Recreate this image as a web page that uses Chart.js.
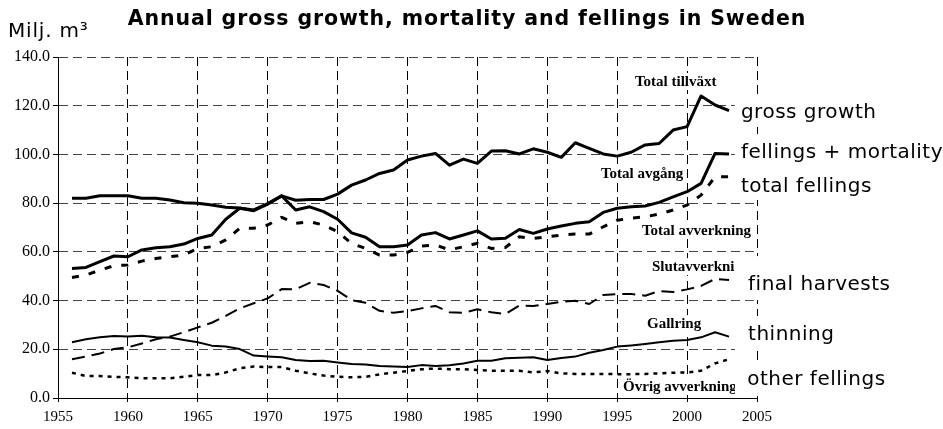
<!DOCTYPE html>
<html>
<head>
<meta charset="utf-8">
<title>Annual gross growth, mortality and fellings in Sweden</title>
<script src="https://cdn.jsdelivr.net/npm/chart.js@4.4.1/dist/chart.umd.min.js"></script>
<style>
    html, body { margin: 0; padding: 0; background: #fff; }
    #wrap { width: 943px; height: 429px; }
</style>
</head>
<body>
<div id="wrap"><canvas id="myChart" width="943" height="429"></canvas></div>
<script>
// Данные (млн м³ в год)
const years = [1956, 1957, 1958, 1959, 1960, 1961, 1962, 1963, 1964, 1965,
    1966, 1967, 1968, 1969, 1970, 1971, 1972, 1973, 1974, 1975,
    1976, 1977, 1978, 1979, 1980, 1981, 1982, 1983, 1984, 1985,
    1986, 1987, 1988, 1989, 1990, 1991, 1992, 1993, 1994, 1995,
    1996, 1997, 1998, 1999, 2000, 2001, 2002, 2003];

const grossGrowth = [82, 82, 83, 83, 83, 82, 82, 81.3, 80.2, 80,
    79.2, 78.3, 78, 77.2, 79.8, 83, 81.2, 81.5, 81.5, 83.7,
    87.4, 89.5, 92.2, 93.6, 97.7, 99.3, 100.4, 95.6, 98.1, 96.3,
    101.4, 101.5, 100.2, 102.3, 100.9, 98.8, 104.8, 102.5, 100.2, 99.3,
    100.9, 103.9, 104.5, 110, 111.4, 124, 120.3, 118];

const fellingsMortality = [53.2, 53.6, 56, 58.3, 58, 60.8, 61.7, 62.1, 63.2, 65.5,
    66.9, 73.4, 77.9, 76.9, 79.6, 83, 77.2, 78.5, 76.5, 73.4,
    67.8, 66, 62.1, 62.1, 62.8, 66.9, 67.9, 65.3, 66.9, 68.6,
    65.3, 65.6, 69.2, 67.6, 69.4, 70.6, 71.7, 72.4, 76.2, 77.9,
    78.5, 78.8, 80.3, 82.6, 84.7, 88.1, 100.4, 100.2];

const totalFellings = [49.5, 50.5, 52.5, 54.3, 54.6, 56.2, 57.3, 58, 58.7, 61.4,
    62.1, 64.9, 69.7, 69.7, 71, 74.2, 71.7, 72.4, 71, 68.3,
    63.5, 61.4, 58.7, 58.7, 59.8, 62.4, 62.8, 60.8, 62.1, 63.5,
    61.4, 61.8, 66.2, 65.5, 66.2, 66.9, 67.3, 67.3, 70.3, 73,
    73.8, 74.4, 75.5, 77.2, 79.2, 83.3, 90.8, 90.8];

const finalHarvests = [15.9, 17, 18.3, 20.1, 20.8, 22.4, 24.1, 25.2, 27, 29,
    30.9, 33.7, 36.8, 38.9, 40.9, 44.7, 44.6, 47.3, 46.4, 44,
    40.2, 39.1, 35.8, 35, 35.7, 36.8, 37.8, 35.2, 35, 36.4,
    35.2, 34.5, 38, 37.8, 38.6, 39.5, 39.9, 38.6, 42.3, 42.7,
    42.7, 42, 43.9, 43.5, 44.6, 46, 48.9, 48.4];

const thinning = [22.9, 24.1, 24.9, 25.5, 25.2, 25.6, 24.9, 24.8, 23.8, 22.9,
    21.5, 21.1, 20.1, 17.4, 17, 16.7, 15.6, 15.2, 15.3, 14.6,
    14, 13.8, 13.1, 12.9, 12.7, 13.5, 13.1, 13.4, 14.2, 15.3,
    15.3, 16.3, 16.5, 16.7, 15.6, 16.4, 17, 18.6, 19.7, 21.1,
    21.6, 22.2, 22.9, 23.5, 23.8, 24.9, 27, 25.2];

const otherFellings = [10.4, 9, 9, 8.7, 8.5, 8.1, 8.1, 8.1, 8.7, 9.4,
    9.4, 10.5, 12.2, 12.9, 12.7, 12.7, 11.2, 10.1, 9.2, 8.7,
    8.5, 8.7, 9.7, 10.4, 11.1, 11.8, 12.1, 11.8, 11.8, 11.5,
    11.2, 11.2, 11.2, 10.5, 11.1, 10.1, 9.9, 9.9, 9.9, 9.8,
    9.8, 9.9, 10.1, 10.4, 10.5, 11.2, 14.2, 15.9];

const chartTitle = 'Annual gross growth, mortality and fellings in Sweden';
const unitLabel = 'Milj. m³';

// Подписи рядов справа (английские) и внутри графика (шведские)
const englishLabels = ['gross growth', 'fellings + mortality', 'total fellings', 'final harvests', 'thinning', 'other fellings'];
const englishYears = [2003.85, 2003.85, 2003.85, 2004.36, 2004.36, 2004.3];
const englishAnchors = [114.9, 98.5, 84.6, 44.3, 23.8, 5.3];
const swedishLabels = ['Total tillväxt', 'Total avgång', 'Total avverkning', 'Slutavverkning', 'Gallring', 'Övrig avverkning'];
const swedishYears = [1996.27, 1993.84, 1996.77, 1997.49, 1997.13, 1995.42];
const swedishAnchors = [128.1, 90.3, 66.9, 52.1, 28.7, 2.9];

const serif = '"Liberation Serif", "Times New Roman", serif';
const sans = '"DejaVu Sans", Verdana, sans-serif';

function points(values) {
    return years.map((y, i) => ({ x: y, y: values[i] }));
}

// white boxes behind the labels on the right (top / bottom offsets from baseline)
const englishBoxes = [[-22, 8], [-24, 6], [-26, 8], [-34, 10], [-24, 10], [-25, 11]];

const textPlugin = {
    id: 'chartText',
    afterDraw(chart) {
        const ctx = chart.ctx;
        const xs = chart.scales.x;
        const ys = chart.scales.y;
        ctx.save();
        ctx.fillStyle = '#000';
        ctx.textBaseline = 'alphabetic';

        ctx.font = 'bold 20.5px ' + sans;
        ctx.letterSpacing = '0.9px';
        ctx.textAlign = 'center';
        ctx.fillText(chartTitle, 467, 25);

        ctx.textAlign = 'left';
        ctx.font = '20px ' + sans;
        ctx.letterSpacing = '0.8px';
        ctx.fillText(unitLabel, 8, 37);
        ctx.letterSpacing = '0px';

        // шведские подписи на белом фоне
        ctx.font = 'bold 15px ' + serif;
        swedishLabels.forEach((t, i) => {
            const x = xs.getPixelForValue(swedishYears[i]);
            const y = ys.getPixelForValue(swedishAnchors[i]);
            const w = ctx.measureText(t).width;
            ctx.fillStyle = '#fff';
            ctx.fillRect(x - 2, y - 13, w + 4, 17);
            ctx.fillStyle = '#000';
            ctx.fillText(t, x, y);
        });

        // английские подписи справа (белые плашки закрывают край сетки)
        ctx.font = '20px ' + sans;
        ctx.letterSpacing = '0.5px';
        const boxLeft = xs.getPixelForValue(2003.85) - 6;
        englishLabels.forEach((t, i) => {
            const x = xs.getPixelForValue(englishYears[i]);
            const y = ys.getPixelForValue(englishAnchors[i]);
            const b = englishBoxes[i];
            ctx.fillStyle = '#fff';
            ctx.fillRect(boxLeft, y + b[0], chart.width - boxLeft, b[1] - b[0]);
            ctx.fillStyle = '#000';
            ctx.fillText(t, x, y);
        });
        ctx.restore();
    }
};

const ctx = document.getElementById('myChart').getContext('2d');
const myChart = new Chart(ctx, {
    type: 'line',
    data: {
        datasets: [
            { label: 'gross growth', data: points(grossGrowth), borderWidth: 3 },
            { label: 'fellings + mortality', data: points(fellingsMortality), borderWidth: 3 },
            { label: 'total fellings', data: points(totalFellings), borderWidth: 3, borderDash: [7, 10] },
            { label: 'final harvests', data: points(finalHarvests), borderWidth: 2, borderDash: [13, 7] },
            { label: 'thinning', data: points(thinning), borderWidth: 2 },
            { label: 'other fellings', data: points(otherFellings), borderWidth: 2.5, borderDash: [4, 5] }
        ]
    },
    options: {
        responsive: false,
        animation: false,
        devicePixelRatio: 1,
        layout: { padding: { top: 57, right: 186, bottom: 0, left: 0 } },
        elements: {
            line: { borderColor: '#000', tension: 0, fill: false, borderJoinStyle: 'round', borderCapStyle: 'butt' },
            point: { radius: 0 }
        },
        plugins: {
            legend: { display: false },
            title: { display: false },
            tooltip: { enabled: false }
        },
        scales: {
            x: {
                type: 'linear',
                min: 1955,
                max: 2005,
                afterFit: s => { s.height = 31; },
                ticks: {
                    stepSize: 5,
                    color: '#000',
                    padding: 6,
                    maxRotation: 0,
                    font: { family: serif, size: 15 },
                    callback: v => String(v)
                },
                grid: { color: '#000', lineWidth: 1, tickLength: 4, tickColor: '#000', tickBorderDash: [] },
                border: { display: true, color: '#000', width: 1, dash: [9, 5] }
            },
            y: {
                min: 0,
                max: 140,
                afterFit: s => { s.width = 58; },
                ticks: {
                    stepSize: 20,
                    color: '#000',
                    padding: 3,
                    font: { family: serif, size: 16 },
                    callback: v => v.toFixed(1)
                },
                grid: {
                    color: c => (c.tick && c.tick.value === 0) ? 'rgba(0,0,0,0)' : '#444',
                    lineWidth: 1,
                    tickLength: 5,
                    tickColor: '#000',
                    tickBorderDash: []
                },
                border: { display: true, color: '#000', width: 1, dash: [9, 5] }
            }
        }
    },
    plugins: [textPlugin]
});
</script>
</body>
</html>
